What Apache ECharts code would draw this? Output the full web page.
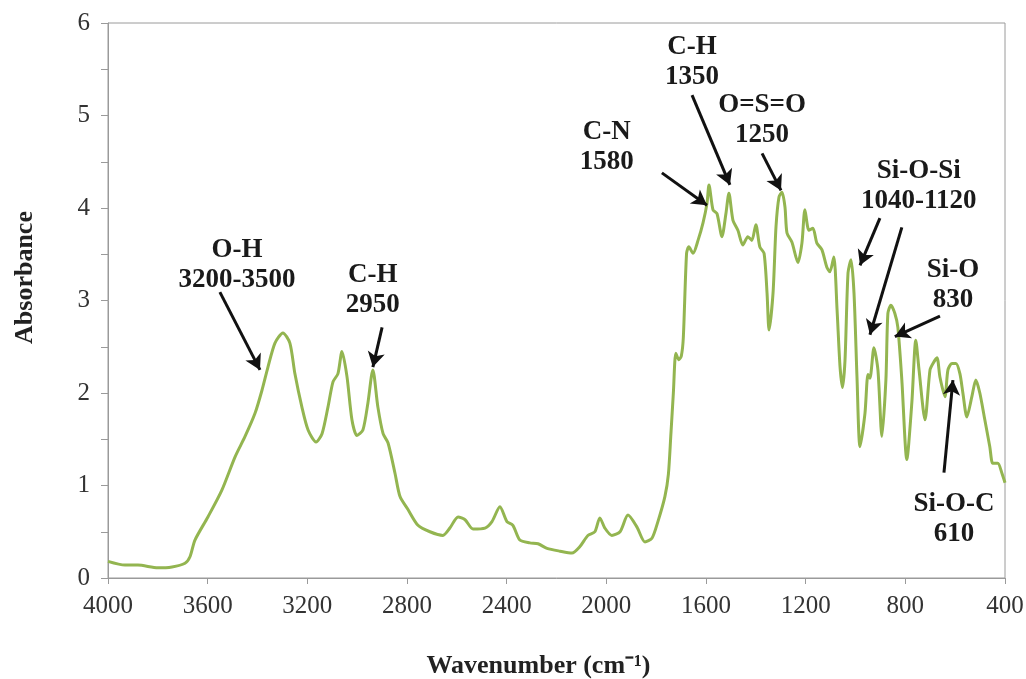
<!DOCTYPE html>
<html lang="en">
<head>
    <meta charset="UTF-8">
    <title>FTIR</title>
</head>
<body style="margin:0">
<div id="main" style="height: 679px;width: 1026px"></div>
</body>
<script src="https://cdn.jsdelivr.net/npm/echarts@6.0.0/dist/echarts.min.js"></script>
<script>
    // spectrum
    var wavenumber = [4000, 3932, 3880, 3800, 3743, 3691, 3671, 3651, 3599, 3543, 3490, 3450, 3410, 3382, 3358, 3330, 3298, 3270, 3250, 3222,
        3197, 3165, 3141, 3117, 3097, 3077, 3061, 3041, 3021, 3001, 2977, 2957, 2937, 2917, 2896, 2876, 2848, 2828, 2796, 2756,
        2708, 2656, 2628, 2595, 2567, 2535, 2487, 2459, 2427, 2399, 2375, 2347, 2307, 2274, 2238, 2186, 2138, 2106, 2074, 2046,
        2026, 2006, 1978, 1945, 1913, 1877, 1845, 1817, 1793, 1765, 1751, 1741, 1731, 1721, 1709, 1699, 1691, 1678, 1669, 1652,
        1632, 1612, 1596, 1588, 1572, 1556, 1536, 1520, 1508, 1492, 1472, 1452, 1432, 1416, 1400, 1384, 1367, 1355, 1347, 1331,
        1319, 1307, 1295, 1283, 1275, 1255, 1231, 1215, 1203, 1187, 1171, 1155, 1135, 1115, 1103, 1087, 1074, 1062, 1052, 1042,
        1030, 1018, 1006, 994, 982, 962, 950, 942, 926, 910, 894, 878, 870, 858, 842, 830, 814, 794, 774, 758,
        745, 721, 701, 689, 673, 661, 641, 629, 613, 597, 581, 569, 553, 533, 517, 501, 481, 461, 449, 429, 412, 400];
    var absorbance = [0.18, 0.14, 0.14, 0.11, 0.12, 0.16, 0.23, 0.41, 0.66, 0.95, 1.31, 1.53, 1.78, 2.03, 2.28, 2.54, 2.65, 2.54, 2.21, 1.85,
        1.60, 1.47, 1.56, 1.85, 2.12, 2.21, 2.45, 2.18, 1.71, 1.54, 1.60, 1.89, 2.25, 1.85, 1.56, 1.46, 1.13, 0.88, 0.74, 0.57,
        0.50, 0.46, 0.54, 0.66, 0.63, 0.53, 0.54, 0.61, 0.77, 0.61, 0.57, 0.41, 0.38, 0.37, 0.32, 0.29, 0.27, 0.34, 0.46, 0.50,
        0.65, 0.54, 0.46, 0.50, 0.68, 0.55, 0.39, 0.43, 0.61, 0.88, 1.12, 1.55, 2.00, 2.43, 2.36, 2.40, 2.60, 3.51, 3.58, 3.51,
        3.65, 3.84, 4.05, 4.25, 3.98, 3.94, 3.69, 3.94, 4.16, 3.87, 3.76, 3.60, 3.69, 3.65, 3.82, 3.58, 3.51, 3.08, 2.68, 3.08,
        3.80, 4.12, 4.17, 4.01, 3.73, 3.63, 3.41, 3.62, 3.98, 3.76, 3.78, 3.62, 3.55, 3.36, 3.31, 3.47, 2.90, 2.28, 2.06, 2.36,
        3.30, 3.44, 3.08, 2.17, 1.42, 1.78, 2.20, 2.16, 2.49, 2.25, 1.53, 2.14, 2.86, 2.95, 2.86, 2.71, 2.14, 1.28, 1.89, 2.57,
        2.25, 1.71, 2.25, 2.32, 2.38, 2.17, 1.96, 2.25, 2.32, 2.32, 2.21, 2.00, 1.74, 1.96, 2.14, 2.00, 1.71, 1.42, 1.24, 1.24, 1.13, 1.03];

    // band labels: text, label position [wavenumber, absorbance]
    var bandNames = ['O-H\n3200-3500', 'C-H\n2950', 'C-N\n1580', 'C-H\n1350', 'O=S=O\n1250', 'Si-O-Si\n1040-1120', 'Si-O\n830', 'Si-O-C\n610'];
    var bandLabelPos = [[3482, 3.38], [2937, 3.11], [1998, 4.66], [1656, 5.58], [1375, 4.95], [746, 4.24], [609, 3.17], [605, 0.64]];
    // arrows: [from, to]
    var arrows = [
        [[3551, 3.09], [3390, 2.25]],
        [[2900, 2.71], [2937, 2.28]],
        [[1777, 4.38], [1596, 4.03]],
        [[1656, 5.22], [1504, 4.25]],
        [[1375, 4.59], [1299, 4.19]],
        [[902, 3.89], [982, 3.38]],
        [[814, 3.79], [942, 2.63]],
        [[661, 2.83], [842, 2.61]],
        [[645, 1.14], [609, 2.14]]
    ];

    var serif = 'Liberation Serif';
    var myChart = echarts.init(document.getElementById('main'));

    var lineData = [];
    for (var i = 0; i < wavenumber.length; i++) {
        lineData.push([wavenumber[i], absorbance[i]]);
    }

    var option = {
        animation: false,
        grid: {
            left: 108, right: 21, top: 23, bottom: 101,
            outerBoundsMode: 'none', containLabel: false,
            show: true, borderColor: '#9a9a9a', borderWidth: 1
        },
        xAxis: {
            type: 'value',
            inverse: true,
            min: 400,
            max: 4000,
            interval: 400,
            name: 'Wavenumber (cm⁻¹)',
            nameLocation: 'middle',
            nameGap: 75,
            nameTextStyle: {fontFamily: serif, fontWeight: 'bold', fontSize: 26, color: '#222', padding: [0, 36, 0, 0]},
            axisLine: {lineStyle: {color: '#9a9a9a', width: 1}},
            axisTick: {inside: false, length: 6, lineStyle: {color: '#9a9a9a'}},
            axisLabel: {
                fontFamily: serif, fontSize: 25, color: '#333', margin: 16,
                formatter: function (v) { return String(v); }
            },
            splitLine: {show: false}
        },
        yAxis: {
            type: 'value',
            min: 0,
            max: 6,
            interval: 1,
            name: 'Absorbance',
            nameLocation: 'middle',
            nameGap: 70,
            nameTextStyle: {fontFamily: serif, fontWeight: 'bold', fontSize: 26, color: '#222', padding: [0, 0, 0, 46]},
            axisLine: {show: true, lineStyle: {color: '#9a9a9a', width: 1}},
            axisTick: {show: true, length: 7, lineStyle: {color: '#9a9a9a'}},
            minorTick: {show: true, splitNumber: 2, length: 7, lineStyle: {color: '#9a9a9a'}},
            axisLabel: {fontFamily: serif, fontSize: 25, color: '#333', margin: 18},
            splitLine: {show: false}
        },
        series: [{
            type: 'line',
            data: lineData,
            showSymbol: false,
            smooth: 0.25,
            lineStyle: {color: '#93b550', width: 3},
            markLine: {
                silent: true,
                symbol: ['none', 'arrow'],
                symbolSize: [13, 15],
                label: {show: false},
                lineStyle: {color: '#111', width: 3, type: 'solid'},
                data: arrows.map(function (a) {
                    return [{coord: a[0]}, {coord: a[1]}];
                })
            },
            markPoint: {
                silent: true,
                symbol: 'rect',
                symbolSize: 1,
                itemStyle: {color: 'rgba(0,0,0,0)'},
                label: {
                    show: true,
                    position: 'inside',
                    formatter: '{b}',
                    fontFamily: serif,
                    fontWeight: 'bold',
                    fontSize: 27,
                    lineHeight: 30,
                    color: '#1a1a1a',
                    align: 'center'
                },
                data: bandNames.map(function (n, k) {
                    return {name: n, coord: bandLabelPos[k]};
                })
            }
        }]
    };

    myChart.setOption(option);
</script>
</html>
